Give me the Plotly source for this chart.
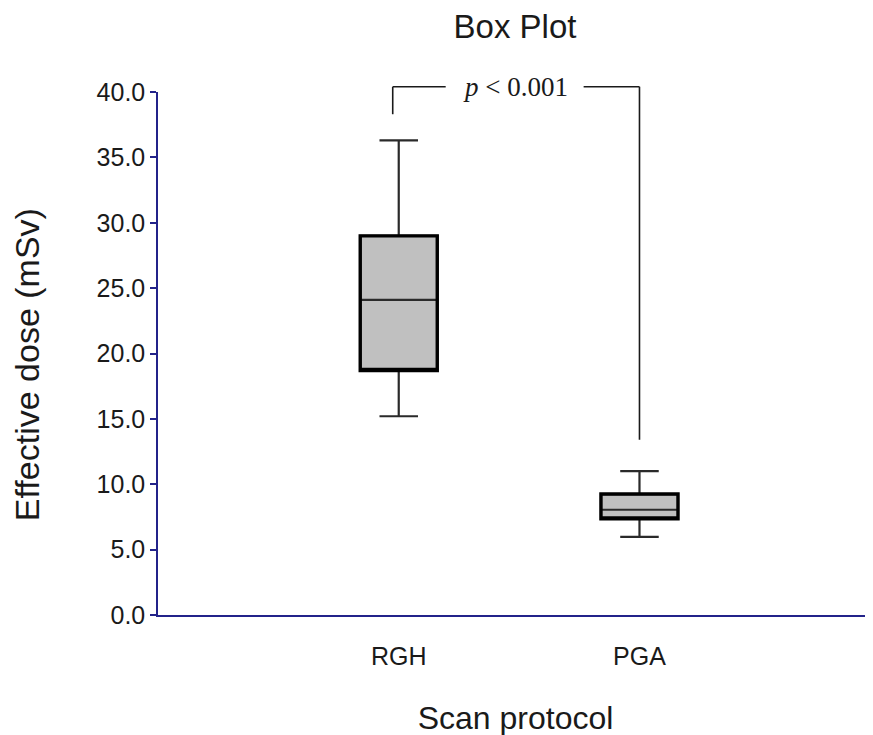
import plotly.graph_objects as go

categories = ["RGH", "PGA"]
x_pos = [0, 1]
q1 = [18.7, 7.35]
median = [24.1, 8.05]
q3 = [29.0, 9.25]
lower = [15.2, 5.97]
upper = [36.3, 11.0]

y_ticks = [0, 5, 10, 15, 20, 25, 30, 35, 40]

bracket_top = 40.4
bracket_left_bottom = 38.3
bracket_right_bottom = 13.4
bracket_x = [-0.025, 1.0]
gap_x = [0.195, 0.768]
p_text_x = 0.485

x_range = [-1.0, 1.97]
y_range = [0, 40]

AXIS = "#23238a"
TXT = "#1a1a1a"
SANS = "Liberation Sans, Arial"

fig = go.Figure()
# full box with thin lines (whiskers + median)
fig.add_trace(go.Box(
    x=x_pos, q1=q1, median=median, q3=q3, lowerfence=lower, upperfence=upper,
    fillcolor="#c0c0c0", line=dict(color="#2a2a2a", width=2.2),
    width=0.32, whiskerwidth=0.5, boxpoints=False, hoverinfo="skip", showlegend=False,
))
# thick outline of boxes
fig.add_trace(go.Box(
    x=x_pos, q1=q1, median=q1, q3=q3, lowerfence=q1, upperfence=q3,
    fillcolor="rgba(0,0,0,0)", line=dict(color="#000000", width=3.4),
    width=0.32, whiskerwidth=0, boxpoints=False, hoverinfo="skip", showlegend=False,
))

def px(v):
    return (v - x_range[0]) / (x_range[1] - x_range[0])

def py(v):
    return (v - y_range[0]) / (y_range[1] - y_range[0])

line_style = dict(color="#1a1a1a", width=1.6)
segs = [
    (bracket_x[0], bracket_left_bottom, bracket_x[0], bracket_top),
    (bracket_x[0], bracket_top, gap_x[0], bracket_top),
    (gap_x[1], bracket_top, bracket_x[1], bracket_top),
    (bracket_x[1], bracket_top, bracket_x[1], bracket_right_bottom),
]
shapes = [dict(type="line", xref="paper", yref="paper", x0=px(a), y0=py(b), x1=px(c), y1=py(d),
               line=line_style) for a, b, c, d in segs]

W, H = 873, 735
fig.update_layout(
    width=W, height=H,
    margin=dict(l=150, r=8, t=84, b=128),
    plot_bgcolor="white", paper_bgcolor="white",
    boxmode="overlay",
    shapes=shapes,
    title=dict(text="Box Plot", x=507 / W, xanchor="center",
               y=1 - 18 / H, yanchor="middle",
               font=dict(family=SANS, size=33, color=TXT)),
    font=dict(family=SANS, color=TXT),
    annotations=[
        dict(x=px(p_text_x), y=py(bracket_top), xref="paper", yref="paper",
             text="<i>p</i> < 0.001", showarrow=False, yanchor="middle",
             font=dict(family="Liberation Serif, Times New Roman", size=27, color=TXT)),
        dict(x=-0.183, y=0.478, xref="paper", yref="paper", textangle=-90,
             text="Effective dose (mSv)", showarrow=False, xanchor="center", yanchor="middle",
             font=dict(family=SANS, size=34, color=TXT)),
    ],
)
fig.update_xaxes(
    range=x_range, tickvals=x_pos, ticktext=categories, automargin=False,
    showline=True, linecolor=AXIS, linewidth=1.5, ticks="outside", ticklen=18,
    tickcolor="rgba(0,0,0,0)", showgrid=False, zeroline=False,
    tickfont=dict(size=25, color=TXT),
    title=dict(text="Scan protocol", font=dict(size=32, color=TXT), standoff=38),
)
fig.update_yaxes(
    range=y_range, tickvals=y_ticks, tickformat=".1f", automargin=False,
    showline=True, linecolor=AXIS, linewidth=1.5, ticks="outside", ticklen=6, tickcolor=AXIS,
    tickwidth=1.5, showgrid=False, zeroline=False,
    tickfont=dict(size=25, color=TXT),
)

fig.write_html("out.html")
